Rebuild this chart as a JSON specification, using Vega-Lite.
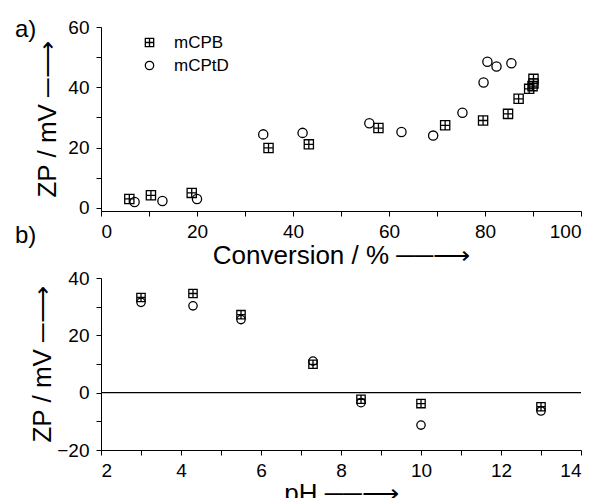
{
  "$schema": "https://vega.github.io/schema/vega-lite/v6.json",
  "padding": {"left": 15, "top": 18, "right": 0, "bottom": 0},
  "background": "white",
  "bounds": "flush",
  "spacing": 67,
  "config": {
    "view": {"stroke": null},
    "font": "Liberation Sans",
    "axis": {
      "grid": false,
      "domainColor": "black",
      "tickColor": "black",
      "labelColor": "black",
      "titleColor": "black",
      "labelFont": "Liberation Sans",
      "titleFont": "Liberation Sans",
      "labelFontSize": 19,
      "titleFontSize": 26,
      "titleFontWeight": "normal",
      "tickSize": 5,
      "labelPadding": 6
    },
    "axisY": {"labelPadding": 7},
    "title": {"font": "Liberation Sans", "fontSize": 24, "fontWeight": "normal", "color": "black", "anchor": "start", "frame": "group", "baseline": "alphabetic", "offset": 0}
  },
  "vconcat": [
    {
      "width": 480,
      "height": 184,
      "title": {"text": "a)", "dx": -86, "dy": 28},
      "data": {"values": [
        {"sample": "mCPB", "conversion": 5.9, "zp": 3.0},
        {"sample": "mCPB", "conversion": 10.4, "zp": 4.2},
        {"sample": "mCPB", "conversion": 18.9, "zp": 5.0},
        {"sample": "mCPB", "conversion": 34.9, "zp": 19.9},
        {"sample": "mCPB", "conversion": 43.3, "zp": 21.1},
        {"sample": "mCPB", "conversion": 57.8, "zp": 26.5},
        {"sample": "mCPB", "conversion": 71.7, "zp": 27.4},
        {"sample": "mCPB", "conversion": 79.6, "zp": 29.0},
        {"sample": "mCPB", "conversion": 84.8, "zp": 31.2},
        {"sample": "mCPB", "conversion": 87.0, "zp": 36.2},
        {"sample": "mCPB", "conversion": 89.2, "zp": 39.5},
        {"sample": "mCPB", "conversion": 89.9, "zp": 40.4},
        {"sample": "mCPB", "conversion": 90.1, "zp": 41.3},
        {"sample": "mCPB", "conversion": 90.1, "zp": 42.8},
        {"sample": "mCPtD", "conversion": 7.0, "zp": 2.0},
        {"sample": "mCPtD", "conversion": 12.8, "zp": 2.3},
        {"sample": "mCPtD", "conversion": 20.0, "zp": 3.0},
        {"sample": "mCPtD", "conversion": 33.8, "zp": 24.4},
        {"sample": "mCPtD", "conversion": 42.0, "zp": 24.9},
        {"sample": "mCPtD", "conversion": 55.9, "zp": 28.1},
        {"sample": "mCPtD", "conversion": 62.6, "zp": 25.2},
        {"sample": "mCPtD", "conversion": 69.2, "zp": 24.0},
        {"sample": "mCPtD", "conversion": 75.3, "zp": 31.6},
        {"sample": "mCPtD", "conversion": 79.7, "zp": 41.6},
        {"sample": "mCPtD", "conversion": 80.5, "zp": 48.5},
        {"sample": "mCPtD", "conversion": 82.4, "zp": 46.9},
        {"sample": "mCPtD", "conversion": 85.5, "zp": 48.0}
      ]},
      "mark": {"type": "point", "filled": false, "stroke": "black", "strokeWidth": 1.3, "size": 85, "opacity": 1},
      "encoding": {
        "x": {
          "field": "conversion", "type": "quantitative",
          "scale": {"domain": [0, 100], "nice": false, "zero": false},
          "axis": {"values": [0, 10, 20, 30, 40, 50, 60, 70, 80, 90, 100], "labelExpr": "datum.value % 20 == 0 ? datum.label : ''", "title": "Conversion / %  ──⟶", "titlePadding": 1}
        },
        "y": {
          "field": "zp", "type": "quantitative",
          "scale": {"domain": [-1, 60], "nice": false, "zero": false},
          "axis": {"values": [0, 10, 20, 30, 40, 50, 60], "labelExpr": "datum.value % 20 == 0 ? datum.label : ''", "title": "ZP / mV  ─⟶", "titlePadding": 7}
        },
        "shape": {
          "field": "sample", "type": "nominal",
          "scale": {"domain": ["mCPB", "mCPtD"], "range": ["M-1,-1H1V1H-1ZM0,-1V1M-1,0H1", "circle"]},
          "legend": {"orient": "none", "legendX": 40, "legendY": 7, "title": null, "labelFontSize": 17, "labelFont": "Liberation Sans", "labelColor": "black", "labelOffset": 16, "symbolSize": 70, "symbolStrokeColor": "black", "symbolStrokeWidth": 1.3, "symbolFillColor": "transparent", "rowPadding": 5}
        }
      }
    },
    {
      "width": 480,
      "height": 172,
      "title": {"text": "b)", "dx": -86, "dy": -17},
      "encoding": {
        "y": {
          "field": "zp", "type": "quantitative",
          "scale": {"domain": [-20, 40], "nice": false, "zero": false},
          "axis": {"values": [-20, -10, 0, 10, 20, 30, 40], "labelExpr": "datum.value % 20 == 0 ? datum.label : ''", "title": "ZP / mV  ─⟶", "titlePadding": 1}
        }
      },
      "layer": [
        {
          "data": {"values": [{"zp": 0}]},
          "mark": {"type": "rule", "color": "black", "strokeWidth": 1.2}
        },
        {
          "data": {"values": [
            {"sample": "mCPB", "ph": 3.0, "zp": 33.2},
            {"sample": "mCPB", "ph": 4.3, "zp": 34.6},
            {"sample": "mCPB", "ph": 5.5, "zp": 27.2},
            {"sample": "mCPB", "ph": 7.3, "zp": 9.9},
            {"sample": "mCPB", "ph": 8.5, "zp": -2.3},
            {"sample": "mCPB", "ph": 10.0, "zp": -3.8},
            {"sample": "mCPB", "ph": 13.0, "zp": -4.9},
            {"sample": "mCPtD", "ph": 3.0, "zp": 31.5},
            {"sample": "mCPtD", "ph": 4.3, "zp": 30.3},
            {"sample": "mCPtD", "ph": 5.5, "zp": 25.5},
            {"sample": "mCPtD", "ph": 7.3, "zp": 11.0},
            {"sample": "mCPtD", "ph": 8.5, "zp": -3.5},
            {"sample": "mCPtD", "ph": 10.0, "zp": -11.3},
            {"sample": "mCPtD", "ph": 13.0, "zp": -6.4}
          ]},
          "mark": {"type": "point", "filled": false, "stroke": "black", "strokeWidth": 1.3, "size": 70, "opacity": 1},
          "encoding": {
            "x": {
              "field": "ph", "type": "quantitative",
              "scale": {"domain": [2, 14], "nice": false, "zero": false},
              "axis": {"values": [2, 3, 4, 5, 6, 7, 8, 9, 10, 11, 12, 13, 14], "labelExpr": "datum.value % 2 == 0 ? datum.label : ''", "title": "pH  ──⟶", "titlePadding": 0}
            },
            "shape": {
              "field": "sample", "type": "nominal",
              "scale": {"domain": ["mCPB", "mCPtD"], "range": ["M-1,-1H1V1H-1ZM0,-1V1M-1,0H1", "circle"]},
              "legend": null
            }
          }
        }
      ]
    }
  ]
}
